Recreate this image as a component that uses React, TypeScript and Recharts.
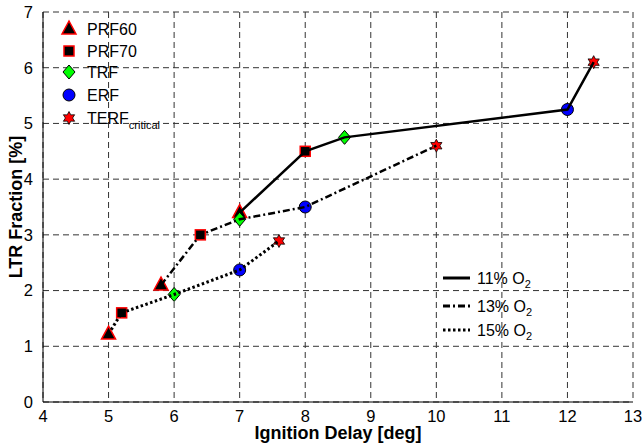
import React from 'react';
import {
  ComposedChart, Line, Scatter, XAxis, YAxis, CartesianGrid, Label
} from 'recharts';

// series values, one marker per fuel along each O2 line
const fuels = ['PRF60', 'PRF70', 'TRF', 'ERF', 'TERF'];
const delay11 = [7, 8, 8.6, 12, 12.4];
const ltr11 = [3.4, 4.5, 4.75, 5.25, 6.1];
const delay13 = [5.8, 6.4, 7, 8, 10];
const ltr13 = [2.1, 3.0, 3.28, 3.5, 4.6];
const delay15 = [5, 5.2, 6, 7, 7.6];
const ltr15 = [1.22, 1.6, 1.93, 2.37, 2.89];

const xTicks = [4, 5, 6, 7, 8, 9, 10, 11, 12, 13];
const yTicks = [0, 1, 2, 3, 4, 5, 6, 7];

const FONT = '"Liberation Sans", Arial, sans-serif';

const toPoints = (xs: number[], ys: number[]) => xs.map((x, i) => ({ x, y: ys[i] }));
const line11 = toPoints(delay11, ltr11);
const line13 = toPoints(delay13, ltr13);
const line15 = toPoints(delay15, ltr15);
const fuelPoints = fuels.map((_, i) => [line11[i], line13[i], line15[i]]);

const Marker = ({ kind, cx, cy }: { kind: string; cx: number; cy: number }) => {
  if (kind === 'PRF60') {
    return <polygon points={`${cx},${cy - 8} ${cx - 7},${cy + 5} ${cx + 7},${cy + 5}`} fill="#000" stroke="#ff0000" strokeWidth={1.5} />;
  }
  if (kind === 'PRF70') {
    return <rect x={cx - 5} y={cy - 5} width={10} height={10} fill="#000" stroke="#ff0000" strokeWidth={1.5} />;
  }
  if (kind === 'TRF') {
    return <polygon points={`${cx},${cy - 7} ${cx + 6},${cy} ${cx},${cy + 7} ${cx - 6},${cy}`} fill="#00ff00" stroke="#000" strokeWidth={1} />;
  }
  if (kind === 'ERF') {
    return <circle cx={cx} cy={cy} r={6} fill="#0000ff" stroke="#000" strokeWidth={1} />;
  }
  const pts: string[] = [];
  for (let k = 0; k < 12; k++) {
    const r = k % 2 === 0 ? 6.5 : 3.6;
    const a = (Math.PI / 6) * k - Math.PI / 2;
    pts.push(`${cx + r * Math.cos(a)},${cy + r * Math.sin(a)}`);
  }
  return <polygon points={pts.join(' ')} fill="#ff0000" stroke="#000" strokeWidth={0.8} />;
};

const labelStyle = { fontWeight: 'bold', fontSize: 18, fill: '#000', fontFamily: FONT };

const App: React.FC = () => {
  const lineLegend = [
    { name: '11% O', dash: undefined, width: 3 },
    { name: '13% O', dash: '7 3 2 3', width: 3 },
    { name: '15% O', dash: '2.5 2.5', width: 3 },
  ];
  const lineLegendY = [278, 306, 330];
  const fuelLegendY = [29, 51, 72, 95, 118];

  return (
    <div style={{ position: 'absolute', left: 0, top: 0, width: 644, height: 445, background: '#fff', fontFamily: FONT }}>
      <ComposedChart width={644} height={445} margin={{ top: 12, right: 11, left: 0, bottom: 0 }}>
        <CartesianGrid stroke="#333" strokeDasharray="6 4" />
        <XAxis
          type="number"
          dataKey="x"
          domain={[4, 13]}
          ticks={xTicks}
          height={43}
          tickLine={false}
          axisLine={{ stroke: '#000' }}
          tick={{ fill: '#000', fontSize: 16.5, fontFamily: FONT }}
          tickMargin={2}
          allowDataOverflow
        >
          <Label value="Ignition Delay [deg]" position="insideBottom" offset={6} style={labelStyle} />
        </XAxis>
        <YAxis
          type="number"
          dataKey="y"
          domain={[0, 7]}
          ticks={yTicks}
          width={43}
          tickLine={false}
          axisLine={{ stroke: '#000' }}
          tick={{ fill: '#000', fontSize: 16.5, fontFamily: FONT }}
          tickMargin={4}
          allowDataOverflow
        >
          <Label
            content={({ viewBox }: any) => (
              <text
                x={viewBox.x + 16}
                y={viewBox.y + viewBox.height / 2}
                transform={`rotate(-90 ${viewBox.x + 16} ${viewBox.y + viewBox.height / 2})`}
                textAnchor="middle"
                dominantBaseline="central"
                style={labelStyle}
              >
                LTR Fraction [%]
              </text>
            )}
          />
        </YAxis>
        {fuels.map((f, i) => (
          <Scatter
            key={f}
            data={fuelPoints[i]}
            isAnimationActive={false}
            shape={(p: any) => <Marker kind={f} cx={p.cx} cy={p.cy} />}
          />
        ))}
        <Line data={line11} dataKey="y" type="linear" stroke="#000" strokeWidth={2.5} dot={false} activeDot={false} isAnimationActive={false} zIndex={900} />
        <Line data={line13} dataKey="y" type="linear" stroke="#000" strokeWidth={2.5} strokeDasharray="7 3 2 3" dot={false} activeDot={false} isAnimationActive={false} zIndex={900} />
        <Line data={line15} dataKey="y" type="linear" stroke="#000" strokeWidth={3} strokeDasharray="2.5 2.5" dot={false} activeDot={false} isAnimationActive={false} zIndex={900} />
      </ComposedChart>

      <svg width={644} height={445} style={{ position: 'absolute', left: 0, top: 0, pointerEvents: 'none' }}>
        {fuels.map((f, i) => (
          <g key={f}>
            <Marker kind={f} cx={69} cy={fuelLegendY[i]} />
            <text x={87} y={fuelLegendY[i]} dominantBaseline="central" fontSize={16} fontFamily={FONT} fill="#000">
              {f === 'TERF' ? (
                <>
                  TERF<tspan fontSize={11} dy={7}>critical</tspan>
                </>
              ) : f}
            </text>
          </g>
        ))}
        {lineLegend.map((l, i) => (
          <g key={l.name}>
            <line x1={443} x2={470} y1={lineLegendY[i]} y2={lineLegendY[i]} stroke="#000" strokeWidth={l.width} strokeDasharray={l.dash} />
            <text x={477} y={lineLegendY[i]} dominantBaseline="central" fontSize={16} fontFamily={FONT} fill="#000">
              {l.name}<tspan fontSize={11} dy={6}>2</tspan>
            </text>
          </g>
        ))}
      </svg>
    </div>
  );
};

export default App;
